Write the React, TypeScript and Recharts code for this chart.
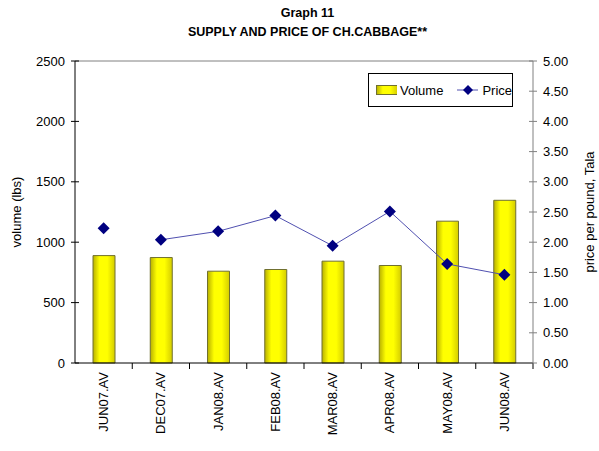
import React from "react";
import {
  ComposedChart,
  Bar,
  Line,
  XAxis,
  YAxis,
  Legend,
  Label,
  ReferenceLine,
} from "recharts";

const categories = [
  "JUN07.AV",
  "DEC07.AV",
  "JAN08.AV",
  "FEB08.AV",
  "MAR08.AV",
  "APR08.AV",
  "MAY08.AV",
  "JUN08.AV",
];
const volume = [889, 873, 760, 774, 843, 807, 1174, 1347];
const price = [2.23, 2.04, 2.18, 2.44, 1.94, 2.51, 1.64, 1.46];
// the line only joins the points from DEC07 on
const lineStart = 1;

const volumeTicks = [0, 500, 1000, 1500, 2000, 2500];
const priceTicks = [0, 0.5, 1, 1.5, 2, 2.5, 3, 3.5, 4, 4.5, 5];

const data = categories.map((cat, i) => ({
  cat,
  volume: volume[i],
  price: price[i],
  priceLine: i >= lineStart ? price[i] : null,
}));

const W = 599;
const H = 451;
const LEFT = 75;
const RIGHT = 533;
const TOP = 61;
const BOTTOM = 363;
const BAND = (RIGHT - LEFT) / categories.length;
const FONT = '"Liberation Sans", Arial, sans-serif';
const NAVY = "#000080";

const Diamond = ({ cx, cy }: any) =>
  cx == null || cy == null ? null : (
    <path
      d={`M${cx},${cy - 6}L${cx + 6},${cy}L${cx},${cy + 6}L${cx - 6},${cy}Z`}
      fill={NAVY}
    />
  );

const LeftTick = ({ x, y, payload }: any) => (
  <g>
    <line x1={x + 4} x2={x + 12} y1={y} y2={y} stroke="#000" />
    <text x={x - 2} y={y} textAnchor="end" dominantBaseline="central" fontSize={13} fill="#000" fontFamily={FONT}>
      {payload.value}
    </text>
  </g>
);

const RightTick = ({ x, y, payload }: any) => (
  <g>
    <line x1={x - 12} x2={x - 4} y1={y} y2={y} stroke="#808080" />
    <text x={x + 2} y={y} textAnchor="start" dominantBaseline="central" fontSize={13} fill="#000" fontFamily={FONT}>
      {Number(payload.value).toFixed(2)}
    </text>
  </g>
);

const CatTick = ({ x, y, payload, index }: any) => (
  <g>
    {index > 0 && (
      <line x1={x - BAND / 2} x2={x - BAND / 2} y1={BOTTOM} y2={BOTTOM + 6} stroke="#000" />
    )}
    {index === categories.length - 1 && (
      <line x1={x + BAND / 2} x2={x + BAND / 2} y1={BOTTOM} y2={BOTTOM + 6} stroke="#000" />
    )}
    <text
      x={x}
      y={y}
      transform={`rotate(-90, ${x}, ${y})`}
      textAnchor="end"
      dominantBaseline="central"
      fontSize={13}
      fill="#000"
      fontFamily={FONT}
    >
      {payload.value}
    </text>
  </g>
);

const LegendBox = () => (
  <div
    style={{
      border: "1px solid #000",
      background: "#fff",
      width: 145,
      height: 34,
      boxSizing: "border-box",
      display: "flex",
      alignItems: "center",
      fontFamily: FONT,
      fontSize: 13,
      color: "#000",
      paddingLeft: 7,
    }}
  >
    <svg width={22} height={12} style={{ marginRight: 3 }}>
      <rect x={0.5} y={1.5} width={21} height={9} fill="url(#barGrad)" stroke="#707030" />
    </svg>
    <span>Volume</span>
    <svg width={22} height={12} style={{ marginLeft: 14, marginRight: 4 }}>
      <line x1={0} x2={22} y1={6} y2={6} stroke="#5050b0" />
      <path d="M11,1L16,6L11,11L6,6Z" fill={NAVY} />
    </svg>
    <span>Price</span>
  </div>
);

export default function App() {
  return (
    <div
      style={{
        position: "absolute",
        left: 0,
        top: 0,
        width: W,
        height: H,
        background: "#fff",
        fontFamily: FONT,
      }}
    >
      <div
        style={{
          position: "absolute",
          left: 8,
          width: W,
          top: 4,
          textAlign: "center",
          fontWeight: "bold",
          fontSize: 12.5,
          lineHeight: "19px",
          color: "#000",
        }}
      >
        <div>Graph 11</div>
        <div>SUPPLY AND PRICE OF CH.CABBAGE**</div>
      </div>
      <ComposedChart
        width={W}
        height={H}
        data={data}
        margin={{ top: TOP, right: 0, bottom: 0, left: 0 }}
      >
        <defs>
          <linearGradient id="barGrad" x1="0" y1="0" x2="1" y2="0">
            <stop offset="0%" stopColor="#b8b000" />
            <stop offset="30%" stopColor="#ffff00" />
            <stop offset="65%" stopColor="#ffff00" />
            <stop offset="100%" stopColor="#d4cc00" />
          </linearGradient>
        </defs>
        <XAxis
          dataKey="cat"
          height={H - BOTTOM}
          interval={0}
          tickSize={0}
          tickMargin={9}
          tick={<CatTick />}
          axisLine={{ stroke: "#000" }}
        />
        <YAxis
          yAxisId="vol"
          width={LEFT}
          domain={[0, 2500]}
          ticks={volumeTicks}
          tickSize={0}
          tickMargin={8}
          tick={<LeftTick />}
          axisLine={{ stroke: "#000" }}
        >
          <Label
            content={({ viewBox }: any) => {
              const cy = viewBox.y + viewBox.height / 2;
              return (
                <text x={16} y={cy} transform={`rotate(-90, 16, ${cy})`} textAnchor="middle" dominantBaseline="central" fontSize={13} fontFamily={FONT} fill="#000">
                  volume (lbs)
                </text>
              );
            }}
          />
        </YAxis>
        <YAxis
          yAxisId="price"
          orientation="right"
          width={W - RIGHT}
          domain={[0, 5]}
          ticks={priceTicks}
          tickSize={0}
          tickMargin={8}
          tick={<RightTick />}
          axisLine={{ stroke: "#808080" }}
        >
          <Label
            content={({ viewBox }: any) => {
              const cy = viewBox.y + viewBox.height / 2;
              return (
                <text x={589} y={cy} transform={`rotate(-90, 589, ${cy})`} textAnchor="middle" dominantBaseline="central" fontSize={13} fontFamily={FONT} fill="#000">
                  price per pound, Tala
                </text>
              );
            }}
          />
        </YAxis>
        <ReferenceLine yAxisId="vol" y={2500} stroke="#808080" />
        <Legend
          layout="vertical"
          align="center"
          verticalAlign="middle"
          content={<LegendBox />}
          wrapperStyle={{ left: 368, top: 73, width: 145, height: 34 }}
        />
        <Bar
          yAxisId="vol"
          dataKey="volume"
          barSize={22}
          fill="url(#barGrad)"
          stroke="#707030"
          isAnimationActive={false}
        />
        <Line
          yAxisId="price"
          dataKey="priceLine"
          stroke="#5050b0"
          strokeWidth={1}
          dot={false}
          connectNulls={false}
          legendType="none"
          isAnimationActive={false}
        />
        <Line
          yAxisId="price"
          dataKey="price"
          stroke="none"
          dot={<Diamond />}
          activeDot={false}
          isAnimationActive={false}
        />
      </ComposedChart>
    </div>
  );
}
